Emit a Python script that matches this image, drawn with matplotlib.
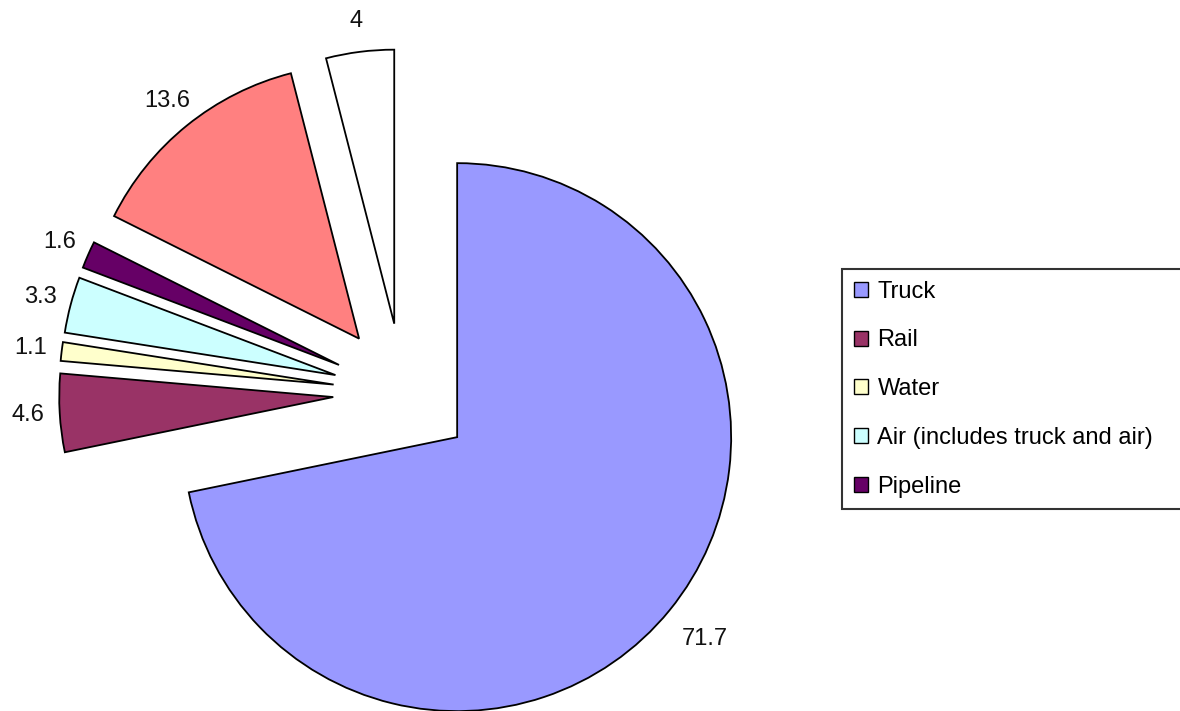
import numpy as np
import matplotlib.pyplot as plt

# shares by mode (the last two slices have no legend entry in the original)
modes = ["Truck", "Rail", "Water", "Air (includes truck and air)", "Pipeline", "", ""]
shares = [71.7, 4.6, 1.1, 3.3, 1.6, 13.6, 4]
value_labels = ["71.7", "4.6", "1.1", "3.3", "1.6", "13.6", "4"]
colors = ["#9999FF", "#993366", "#FFFFCC", "#CCFFFF", "#660066", "#FF8080", "#FFFFFF"]

W, H = 1180, 711
R = 274.0          # pie radius in pixels
cx, cy = 403, 318  # pie centre in pixels (from bottom-left)

plt.rcParams['font.family'] = ['Liberation Sans', 'DejaVu Sans']

fig = plt.figure(figsize=(W / 100, H / 100), dpi=100)
ax = fig.add_axes([0, 0, 1, 1])

wedges, _ = ax.pie(shares, colors=colors, startangle=90, counterclock=False,
                   radius=1, center=(0, 0), explode=[0.255] * len(shares),
                   wedgeprops=dict(edgecolor='black', linewidth=1.3))

ax.set_xlim(-cx / R, (W - cx) / R)
ax.set_ylim(-cy / R, (H - cy) / R)
ax.set_aspect('auto')
ax.axis('off')

# value labels just outside each exploded slice
for i, (w, lab) in enumerate(zip(wedges, value_labels)):
    th = np.deg2rad((w.theta1 + w.theta2) / 2)
    d = 1.165 if i == 0 else 1.115
    x = w.center[0] + d * w.r * np.cos(th)
    y = w.center[1] + d * w.r * np.sin(th)
    ax.text(x, y, lab, ha='center', va='center', fontsize=17, color='#111111')

leg = ax.legend(wedges[:5], modes[:5], loc='upper left',
                bbox_to_anchor=(842 / W, 1 - 515 / H, 360 / W, 246 / H),
                bbox_transform=fig.transFigure, mode='expand',
                fontsize=17, frameon=True, fancybox=False, borderaxespad=0,
                borderpad=0.5, labelspacing=1.13, handlelength=0.6,
                handleheight=0.6, handletextpad=0.4)
leg.get_frame().set_edgecolor('black')
leg.get_frame().set_linewidth(1.5)
for h in leg.legend_handles:
    h.set_linewidth(1.0)

fig.savefig('out.png', dpi=100)
